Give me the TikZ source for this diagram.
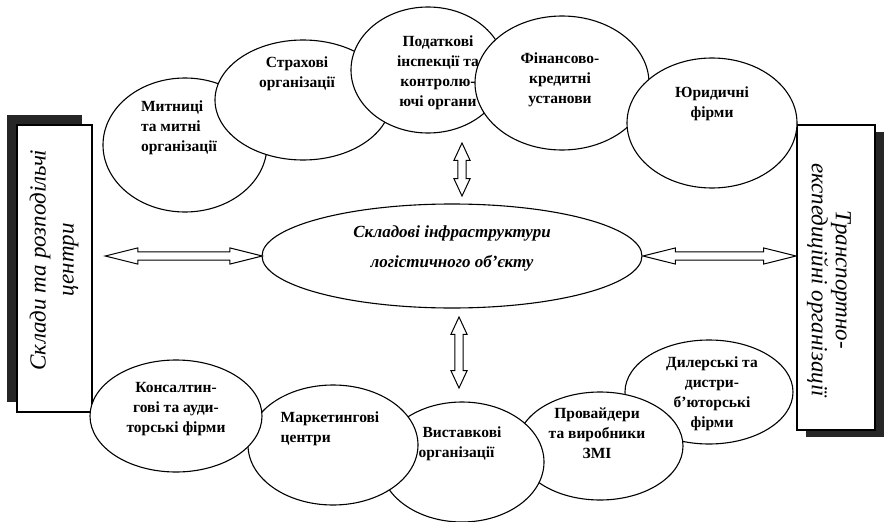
\documentclass[tikz,border=0pt]{standalone}
\usepackage{fontspec}
\setmainfont{Liberation Serif}
\usetikzlibrary{shapes.geometric,shapes.arrows,shadows}

\begin{document}
\begin{tikzpicture}[x=1pt, y=-1pt,
    oval/.style 2 args={ellipse, draw, fill=white, line width=1.1pt,
        minimum width=#1pt, minimum height=#2pt, inner sep=0pt, outer sep=0pt},
    lbl/.style={align=center, inner sep=0pt, font=\fontsize{15.5}{20}\selectfont\bfseries},
    sidebox/.style={draw, fill=white, line width=1.1pt, inner sep=0pt, outer sep=0pt},
    sidetext/.style={align=center, inner sep=0pt, font=\fontsize{23}{28}\selectfont\itshape},
    dblarrow/.style={double arrow, draw, fill=white, line width=1pt, inner xsep=0pt,
        inner ysep=3.6pt, text height=0pt, text depth=0pt,
        double arrow head extend=4pt, sloped}]

    \useasboundingbox (0,0) rectangle (884,522);

    % side boxes
    \node[sidebox, minimum width=75pt, minimum height=287pt,
        drop shadow={shadow xshift=-10pt, shadow yshift=10pt, fill=black!85, opacity=1}]
        (sklad) at (54.5,268.5) {};
    \node[sidetext, rotate=90] (sklad-t) at (54,260) {Склади та розподільчі\\центри};

    \node[sidebox, minimum width=78pt, minimum height=305pt,
        drop shadow={shadow xshift=9pt, shadow yshift=-7pt, fill=black!85, opacity=1}]
        (transp) at (836,277.5) {};
    \node[sidetext, rotate=-90, font=\fontsize{23}{24}\selectfont\itshape] (transp-t)
        at (829,280) {Транспортно-\\експедиційні організації};

    % upper row, left to right
    \node[oval={164}{134}] (mytn) at (185,145) {};
    \node[lbl, align=left] (mytn-t) at (179,128) {Митниці\\та митні\\організації};
    \node[oval={176}{120}] (strakh) at (303,100) {};
    \node[lbl] (strakh-t) at (297,74) {Страхові\\організації};
    \node[oval={154}{126}] (podat) at (428,70) {};
    \node[lbl] (podat-t) at (438,73) {Податкові\\інспекції та\\контролю-\\ючі органи};
    \node[oval={174}{134}] (finans) at (562,83) {};
    \node[lbl] (finans-t) at (560,80) {Фінансово-\\кредитні\\установи};
    \node[oval={170}{130}] (yuryd) at (712,123) {};
    \node[lbl] (yuryd-t) at (712,104) {Юридичні\\фірми};

    % lower row, right to left
    \node[oval={168}{104}] (diler) at (709,392) {};
    \node[lbl] (diler-t) at (712,394) {Дилерські та\\дистри-\\б’юторські\\фірми};
    \node[oval={166}{108}] (provai) at (600,446) {};
    \node[lbl] (provai-t) at (597,433) {Провайдери\\та виробники\\ЗМІ};
    \node[oval={164}{120}] (vystav) at (462,462) {};
    \node[lbl, align=left] (vystav-t) at (460,444) {\hspace*{4pt}Виставкові\\організації};
    \node[oval={170}{120}] (market) at (333,445) {};
    \node[lbl, align=left] (market-t) at (330,429) {Маркетингові\\центри};
    \node[oval={172}{112}] (konsal) at (176,416) {};
    \node[lbl] (konsal-t) at (176,409) {Консалтин-\\гові та ауди-\\торські фірми};

    % centre
    \node[oval={380}{104}] (centr) at (452,256) {};
    \node[lbl, font=\fontsize{17}{30}\selectfont\bfseries\itshape] (centr-t) at (452,248)
        {Складові інфраструктури\\логістичного об’єкту};

    % arrows
    \coordinate (top-end) at (462,143);
    \coordinate (bot-end) at (459,388);
    \path (top-end) -- ([xshift=10pt,yshift=8pt]centr.north)
        node[dblarrow, double arrow tip angle=50, midway, minimum height=53pt] (arr-t) {};
    \path ([xshift=7pt,yshift=-9pt]centr.south) -- (bot-end)
        node[dblarrow, double arrow tip angle=50, midway, minimum height=71pt] (arr-b) {};
    \path (sklad.east |- centr.west) -- (centr.west)
        node[dblarrow, double arrow tip angle=28, pos=0.54, minimum height=157pt] (arr-l) {};
    \path (centr.east) -- (transp.west |- centr.east)
        node[dblarrow, double arrow tip angle=28, midway, minimum height=153pt] (arr-r) {};
\end{tikzpicture}
\end{document}
